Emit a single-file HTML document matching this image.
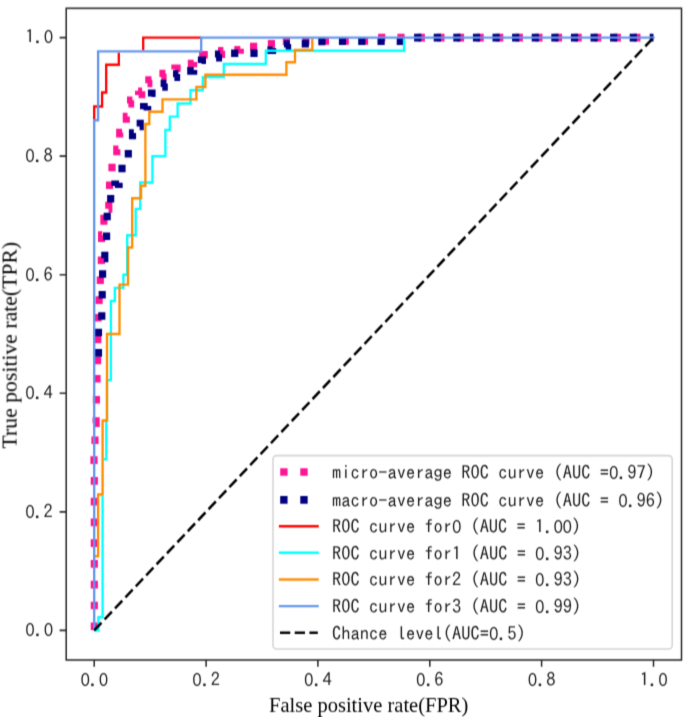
<!DOCTYPE html>
<html lang="en">
<head>
<meta charset="utf-8">
<title>ROC curves</title>
<style>
html,body{margin:0;padding:0;background:#fff;}
svg{display:block;}
.mono{font-family:"IPAGothic","WenQuanYi Zen Hei Mono","Noto Sans Mono CJK SC","Liberation Mono",monospace;font-size:18.47px;fill:#1c1c1c;white-space:pre;}
.z{font-family:"Noto Sans CJK SC","Noto Sans CJK JP","Liberation Sans",sans-serif;font-size:17.4px;font-weight:350;letter-spacing:-0.42px;}
.ax{font-family:"Liberation Serif","DejaVu Serif",serif;font-size:20.5px;fill:#000;}
</style>
</head>
<body>
<svg width="685" height="717" viewBox="0 0 685 717">
<defs>
<filter id="aa"><feOffset dx="0" dy="0"/></filter>
<filter id="soft" x="0" y="0" width="685" height="717" filterUnits="userSpaceOnUse" color-interpolation-filters="sRGB"><feConvolveMatrix order="3" kernelMatrix="0.0230 0.1702 0.0230 0.0604 0.4466 0.0604 0.0230 0.1702 0.0230" edgeMode="duplicate" preserveAlpha="false"/></filter>
</defs>
<g filter="url(#soft)">
<rect width="685" height="717" fill="#fff"/>
<g transform="scale(1,1.0592)">
<path d="M94.3,594.8L94.3,587.6M94.3,575.2L94.3,568.0M94.3,555.6L94.3,548.4M94.3,536.0L94.3,528.8M94.3,516.4L94.3,509.2M94.3,496.8L94.3,489.6M94.3,477.2L94.3,470.0M94.3,457.6L94.3,450.4M94.0,438.0L94.0,430.8M95.0,419.2L95.0,412.0M94.5,399.5L96.1,399.5L96.1,393.9M96.4,381.0L96.4,373.9M97.0,361.2L97.0,354.1M97.6,343.8L97.6,336.7M97.8,324.1L97.8,316.9M98.0,303.6L98.0,296.5M99.1,287.0L99.1,279.8M100.3,268.2L100.3,261.1M101.3,249.2L101.3,242.1M101.6,228.4L101.6,222.0L102.3,222.0M103.9,212.1L103.9,206.4L105.3,206.4M108.5,197.2L108.8,197.2L108.8,190.4M109.5,178.5L109.5,171.4M112.0,161.7L112.0,154.6M116.8,146.6L116.8,141.0L118.4,141.0M119.7,129.9L119.7,125.2L122.1,125.2M126.3,115.9L126.3,110.0L127.5,110.0M128.4,97.8L130.6,97.8L130.6,94.7L132.4,94.7M138.6,89.8L138.6,89.3L141.7,89.3L141.7,86.2L142.1,86.2M147.5,78.7L148.8,78.7L148.8,75.6L151.5,75.6M161.3,72.6L163.0,72.6L163.0,69.5L165.4,69.5M174.9,65.7L174.9,64.4L180.6,64.4M187.8,59.9L193.7,59.9L193.7,58.6M202.7,53.8L202.7,51.7L207.8,51.7M219.4,51.1L221.6,51.1L221.6,48.0L223.4,48.0M234.3,47.1L240.3,47.1L240.3,46.0M250.0,44.0L257.2,44.0M267.8,41.4L275.0,41.4M282.8,39.1L290.0,39.1M302.3,38.7L309.5,38.7M321.8,38.7L329.0,38.7M341.6,38.7L348.8,38.7M360.9,38.7L368.1,38.7M378.1,35.5L385.3,35.5M397.4,35.5L404.6,35.5M417.7,35.5L424.9,35.5M437.3,35.5L444.5,35.5M456.9,35.5L464.1,35.5M476.5,35.5L483.7,35.5M496.1,35.5L503.3,35.5M515.7,35.5L522.9,35.5M535.3,35.5L542.5,35.5M554.9,35.5L562.1,35.5M574.5,35.5L581.7,35.5M594.1,35.5L601.3,35.5M613.7,35.5L620.9,35.5M633.3,35.5L640.5,35.5" fill="none" stroke="#ff1493" stroke-width="7.15" stroke-linejoin="miter" stroke-linecap="butt"/>
<path d="M98.5,336.8L98.5,329.6M98.5,317.5L98.5,310.3M101.8,301.9L101.8,294.8M102.2,281.9L102.2,274.7M102.6,262.3L102.6,255.1M103.9,243.9L104.8,243.9L104.8,237.6M106.6,226.7L106.6,219.5M107.2,208.0L107.2,200.8M110.7,191.3L110.7,184.1M114.9,175.5L114.9,174.0L119.1,174.0L119.1,172.5M122.0,162.7L122.0,155.5M128.3,148.7L128.3,141.5M132.5,131.4L132.5,125.5L133.8,125.5M139.6,119.5L140.2,119.5L140.2,113.0M143.6,103.1L143.6,100.8L147.7,100.8L147.7,100.1M151.5,91.1L151.5,88.0L155.6,88.0M162.3,82.1L164.2,82.1L164.2,78.9L166.4,78.9M174.4,72.9L176.6,72.9L176.6,69.8L178.4,69.8M187.2,66.9L193.7,66.9L193.7,66.2M201.4,59.5L201.4,56.9L206.0,56.9M216.1,54.4L218.5,54.4L218.5,51.3L220.2,51.3M231.1,50.2L238.3,50.2M250.4,50.3L257.6,50.3M267.4,47.4L272.6,47.4L272.6,45.4M285.7,44.8L287.6,44.8L287.6,41.6L289.8,41.6M301.7,41.2L308.9,41.2M318.3,39.2L325.5,39.2M338.9,39.0L346.1,39.0M358.2,39.0L365.4,39.0M377.5,39.0L384.7,39.0M396.7,39.0L403.9,39.0M414.1,35.5L421.3,35.5M433.7,35.5L440.9,35.5M453.3,35.5L460.5,35.5M472.9,35.5L480.1,35.5M492.5,35.5L499.7,35.5M512.1,35.5L519.3,35.5M531.7,35.5L538.9,35.5M551.3,35.5L558.5,35.5M570.9,35.5L578.1,35.5M590.5,35.5L597.7,35.5M610.1,35.5L617.3,35.5M629.7,35.5L636.9,35.5M649.7,35.5L653.5,35.5" fill="none" stroke="#000080" stroke-width="7.15" stroke-linejoin="miter" stroke-linecap="butt"/>
<path d="M94.2,112.6 L94.2,100.5 L102.1,100.5 L102.1,87.3 L106.2,87.3 L106.2,61.2 L118.8,61.2 L118.8,49.7M143.2,47.3 L143.2,35.5 L201.2,35.5" fill="none" stroke="#ff0000" stroke-width="2.3" stroke-linejoin="miter" stroke-linecap="butt"/>
<path d="M103.8,433.5 L106.3,433.5 L106.3,397.0 L107.0,397.0 L107.0,358.9 L110.9,358.9 L110.9,284.2 L114.8,284.2 L114.8,271.8 L123.4,271.8 L123.4,259.4 L127.2,259.4 L127.2,222.1 L135.7,222.1 L135.7,197.2 L140.2,197.2 L140.2,172.3 L152.4,172.3 L152.4,147.4 L165.4,147.4 L165.4,122.6 L169.8,122.6 L169.8,110.1 L177.6,110.1 L177.6,97.7 L190.5,97.7 L190.5,85.2 L202.8,85.2 L202.8,72.8 L223.8,72.8 L223.8,60.4 L265.8,60.4 L265.8,47.9 L404.0,47.9 L404.0,36.3M94.2,595.2 L98.4,595.2 L98.4,582.7 L102.6,582.7 L102.6,468.1" fill="none" stroke="#00ffff" stroke-width="2.3" stroke-linejoin="miter" stroke-linecap="butt"/>
<path d="M94.2,525.2 L98.1,525.2 L98.1,466.9 L102.6,466.9 L102.6,397.0 L107.0,397.0 L107.0,315.3 L119.5,315.3 L119.5,268.7 L128.0,268.7 L128.0,233.7 L132.2,233.7 L132.2,187.1 L141.1,187.1 L141.1,175.4 L145.4,175.4 L145.4,117.1 L149.3,117.1 L149.3,105.5 L162.5,105.5 L162.5,93.8 L196.4,93.8 L196.4,82.1 L205.4,82.1 L205.4,70.5 L286.4,70.5 L286.4,58.8 L295.0,58.8 L295.0,47.2 L312.3,47.2 L312.3,36.3" fill="none" stroke="#ff8c00" stroke-width="2.3" stroke-linejoin="miter" stroke-linecap="butt"/>
<path d="M94.2,595.2 L94.2,113.6 L98.1,113.6 L98.1,48.5 L201.2,48.5 L201.2,35.5 L654.7,35.5" fill="none" stroke="#6495ed" stroke-width="2.3" stroke-linejoin="miter" stroke-linecap="butt"/>
<path d="M94.2,595.2 L653.5,35.5" fill="none" stroke="#000" stroke-width="2.5" stroke-dasharray="10.27 4.44"/>
<rect x="66.2" y="7.84" width="615.3" height="615.28" fill="none" stroke="#262626" stroke-width="1.5"/>
<path d="M94.2,623.11v6.3M66.2,595.17h-6.6M206.1,623.11v6.3M66.2,483.23h-6.6M317.9,623.11v6.3M66.2,371.30h-6.6M429.8,623.11v6.3M66.2,259.37h-6.6M541.6,623.11v6.3M66.2,147.43h-6.6M653.5,623.11v6.3M66.2,35.50h-6.6" fill="none" stroke="#262626" stroke-width="1.5"/>
<rect x="273.0" y="430.14" width="399.2" height="182.59" rx="3.5" ry="3.3" fill="#fff" fill-opacity="0.8" stroke="#d4d4d4" stroke-width="1.5"/>
<path d="M280.2,445.62h7.35M300.3,445.62h7.35" stroke="#ff1493" stroke-width="7.15" fill="none"/>
<path d="M280.2,471.96h7.35M300.3,471.96h7.35" stroke="#000080" stroke-width="7.15" fill="none"/>
<path d="M280.0,496.88H317.6" stroke="#ff0000" stroke-width="2.3" stroke-linecap="square" fill="none"/>
<path d="M280.0,521.90H317.6" stroke="#00ffff" stroke-width="2.3" stroke-linecap="square" fill="none"/>
<path d="M280.0,547.11H317.6" stroke="#ff8c00" stroke-width="2.3" stroke-linecap="square" fill="none"/>
<path d="M280.0,572.22H317.6" stroke="#6495ed" stroke-width="2.3" stroke-linecap="square" fill="none"/>
<path d="M280,597.43H317.8" stroke="#000" stroke-width="2.5" stroke-dasharray="10.27 4.44" fill="none"/>
<g filter="url(#aa)">
<text x="368.7" y="672.3" text-anchor="middle" class="ax">False positive rate(FPR)</text>
<text transform="translate(16.6,325.9) rotate(-90)" text-anchor="middle" class="ax">True positive rate(TPR)</text>
</g>
</g>
<g class="mono" filter="url(#aa)">
<text x="94.2" y="686.4" text-anchor="middle"><tspan class="z">0</tspan>.<tspan class="z">0</tspan></text>
<text x="52.8" y="636.2" text-anchor="end"><tspan class="z">0</tspan>.<tspan class="z">0</tspan></text>
<text x="206.1" y="686.4" text-anchor="middle"><tspan class="z">0</tspan>.2</text>
<text x="52.8" y="517.6" text-anchor="end"><tspan class="z">0</tspan>.2</text>
<text x="317.9" y="686.4" text-anchor="middle"><tspan class="z">0</tspan>.4</text>
<text x="52.8" y="399.1" text-anchor="end"><tspan class="z">0</tspan>.4</text>
<text x="429.8" y="686.4" text-anchor="middle"><tspan class="z">0</tspan>.6</text>
<text x="52.8" y="280.5" text-anchor="end"><tspan class="z">0</tspan>.6</text>
<text x="541.6" y="686.4" text-anchor="middle"><tspan class="z">0</tspan>.8</text>
<text x="52.8" y="162.0" text-anchor="end"><tspan class="z">0</tspan>.8</text>
<text x="653.5" y="686.4" text-anchor="middle">1.<tspan class="z">0</tspan></text>
<text x="52.8" y="43.4" text-anchor="end">1.<tspan class="z">0</tspan></text>
<text x="332.1" y="478.9">micro-average ROC curve (AUC =<tspan class="z">0</tspan>.97)</text>
<text x="332.1" y="506.8">macro-average ROC curve (AUC = <tspan class="z">0</tspan>.96)</text>
<text x="332.1" y="533.2">ROC curve for<tspan class="z">0</tspan> (AUC = 1.<tspan class="z">00</tspan>)</text>
<text x="332.1" y="559.7">ROC curve for1 (AUC = <tspan class="z">0</tspan>.93)</text>
<text x="332.1" y="586.4">ROC curve for2 (AUC = <tspan class="z">0</tspan>.93)</text>
<text x="332.1" y="613.0">ROC curve for3 (AUC = <tspan class="z">0</tspan>.99)</text>
<text x="332.1" y="639.7">Chance level(AUC=<tspan class="z">0</tspan>.5)</text>
</g>
</g>
</svg>
</body>
</html>
